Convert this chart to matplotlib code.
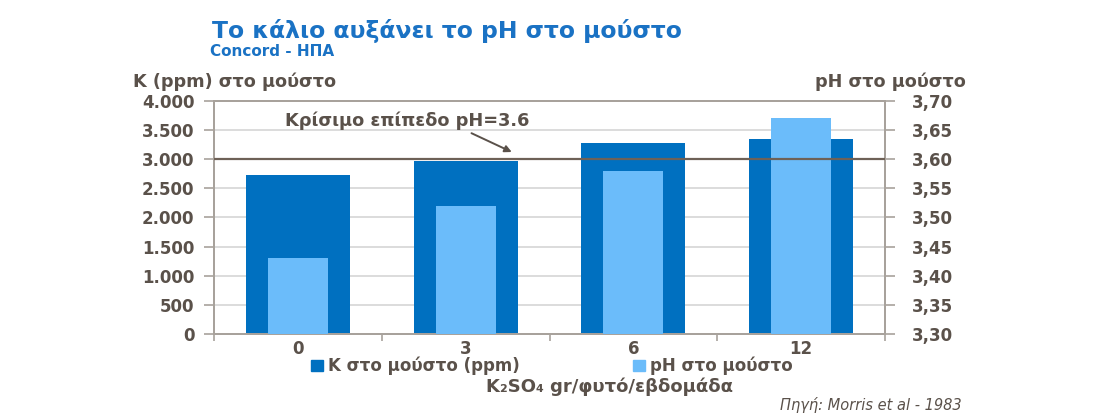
import matplotlib
matplotlib.use("Agg")
import matplotlib.pyplot as plt
from matplotlib.patches import Patch
import numpy as np

# ---- data ----
categories = ["0", "3", "6", "12"]
k_ppm = [2730, 2970, 3270, 3340]
ph_values = [3.43, 3.52, 3.58, 3.67]
k_ticks = [0, 500, 1000, 1500, 2000, 2500, 3000, 3500, 4000]
k_tick_labels = ["0", "500", "1.000", "1.500", "2.000", "2.500", "3.000", "3.500", "4.000"]
ph_ticks = [3.30, 3.35, 3.40, 3.45, 3.50, 3.55, 3.60, 3.65, 3.70]
ph_tick_labels = ["3,30", "3,35", "3,40", "3,45", "3,50", "3,55", "3,60", "3,65", "3,70"]
critical_ph = 3.6

title = "Το κάλιο αυξάνει το pH στο μούστο"
subtitle = "Concord - ΗΠΑ"
left_label = "K (ppm) στο μούστο"
right_label = "pH στο μούστο"
x_label = "K₂SO₄ gr/φυτό/εβδομάδα"
series_names = ["K στο μούστο (ppm)", "pH στο μούστο"]
annot_text = "Κρίσιμο επίπεδο pH=3.6"
source = "Πηγή: Morris et al - 1983"

# ---- style ----
W, H = 1110, 420
DARK = "#0070c0"
LIGHT = "#6bbcfa"
TXT = "#5a514a"
TITLE_C = "#1a72c4"
SPINE = "#a8a29c"
GRID = "#d6d6d6"
plt.rcParams["font.family"] = ["DejaVu Sans"]

fig = plt.figure(figsize=(W / 100, H / 100), dpi=100)

def fx(px):
    return px / W

def fy(py):
    return 1 - py / H

ax = fig.add_axes([fx(214), fy(334), fx(885) - fx(214), fy(100.7) - fy(334)])
ax2 = ax.twinx()

x = np.arange(len(categories))
ax.bar(x, k_ppm, width=0.62, color=DARK, zorder=2)
ax.set_ylim(0, 4000)
ax.set_xlim(-0.5, len(categories) - 0.5)
ax.set_yticks(k_ticks)
ax.set_yticklabels(k_tick_labels)
ax.yaxis.grid(True, color=GRID, lw=1.2, zorder=0)
ax.set_axisbelow(True)

ax2.bar(x, np.array(ph_values) - ph_ticks[0], bottom=ph_ticks[0], width=0.357, color=LIGHT, zorder=3)
ax2.set_ylim(ph_ticks[0], ph_ticks[-1])
ax2.set_yticks(ph_ticks)
ax2.set_yticklabels(ph_tick_labels)
ax2.axhline(critical_ph, color="#6e6157", lw=1.6, zorder=5)

# x ticks
ax.set_xticks(x)
ax.set_xticklabels(categories)
ax.set_xticks(np.arange(-0.5, len(categories)), minor=True)
ax.tick_params(axis="x", which="major", length=0, pad=4)
ax.tick_params(axis="x", which="minor", length=5, color=SPINE, width=1.2, direction="out")

for a in (ax, ax2):
    for s in a.spines.values():
        s.set_color(SPINE)
        s.set_linewidth(1.4)
    a.tick_params(axis="y", length=7, color=SPINE, width=1.2)
    for lab in a.get_yticklabels() + a.get_xticklabels():
        lab.set_color(TXT)
        lab.set_fontweight("bold")
        lab.set_fontsize(12)
ax.tick_params(axis="y", pad=7)
ax2.tick_params(axis="y", pad=12)

# annotation
ax.text(0.65, 3650, annot_text, ha="center", va="center", color=TXT,
        fontsize=12.8, fontweight="bold", zorder=6)
ax.annotate("", xy=(1.29, 3100), xytext=(1.02, 3463),
            arrowprops=dict(arrowstyle="-|>", color="#5a514a", lw=1.4,
                            mutation_scale=10), zorder=6)

# texts
fig.text(fx(212), fy(31), title, color=TITLE_C, fontsize=16.9, fontweight="bold",
         ha="left", va="center")
fig.text(fx(210), fy(51), subtitle, color=TITLE_C, fontsize=11, fontweight="bold",
         ha="left", va="center")
fig.text(fx(133), fy(82), left_label, color=TXT, fontsize=12.7, fontweight="bold",
         ha="left", va="center")
fig.text(fx(966), fy(82), right_label, color=TXT, fontsize=12.7, fontweight="bold",
         ha="right", va="center")
fig.text(fx(610), fy(387), x_label, color=TXT, fontsize=13, fontweight="bold",
         ha="center", va="center")
fig.text(fx(962), fy(405), source, color=TXT, fontsize=10.5, style="italic",
         ha="right", va="center")

handles = [Patch(color=DARK), Patch(color=LIGHT)]
fig.legend(handles, series_names, ncol=2, loc="center",
           bbox_to_anchor=(fx(552), fy(366)), frameon=False,
           handlelength=0.7, handleheight=0.7, handletextpad=0.3,
           columnspacing=6.8, prop=dict(weight="bold", size=12),
           labelcolor=TXT)

fig.savefig("out.png", dpi=100)
